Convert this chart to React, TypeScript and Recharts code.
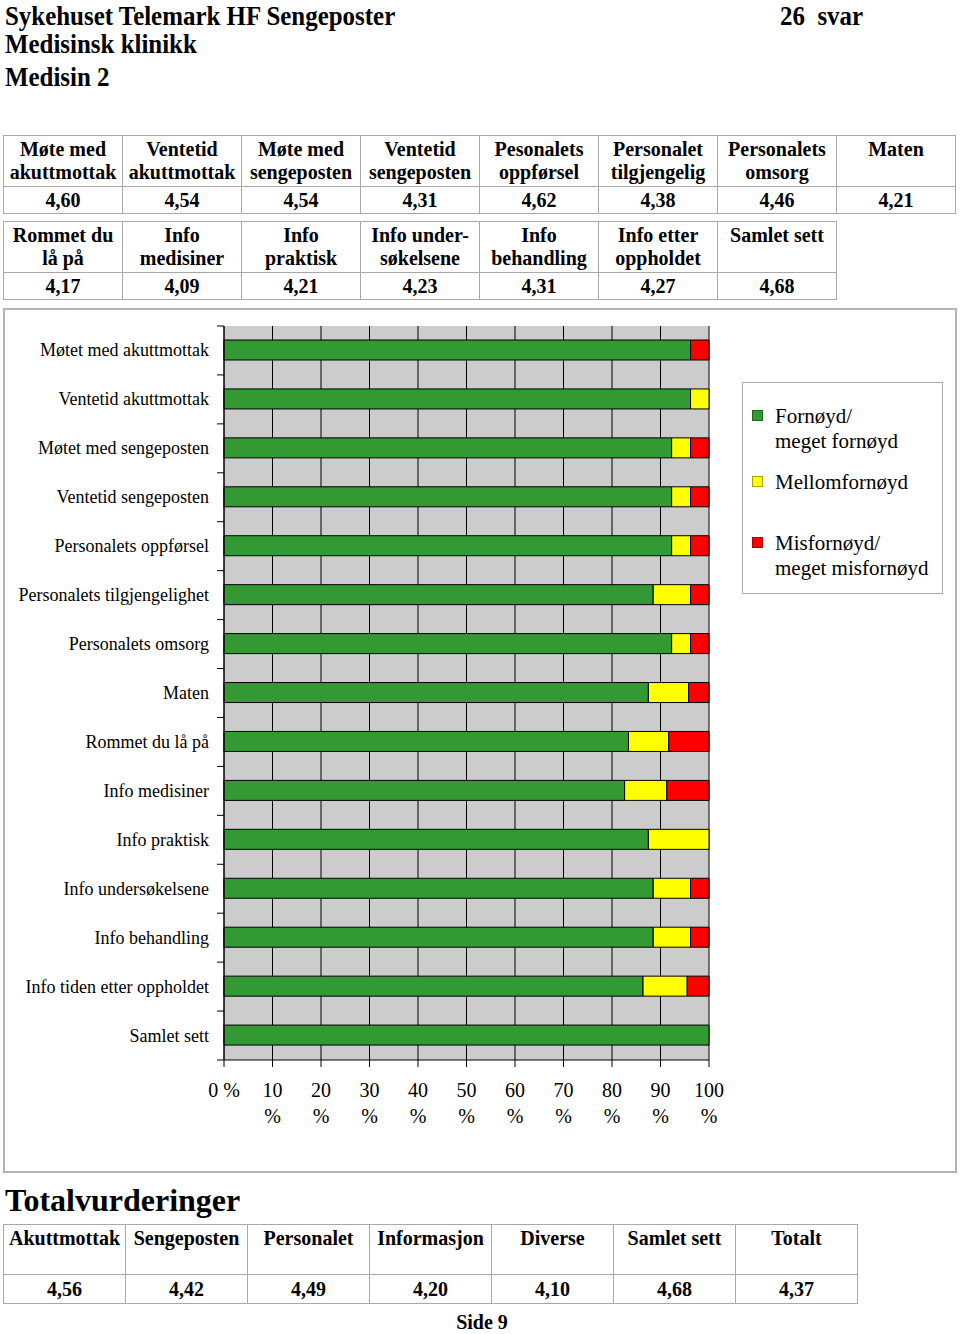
import { BarChart, Bar, XAxis, YAxis, CartesianGrid, Legend } from "recharts";

const SERIF = "'Liberation Serif', 'Times New Roman', serif";

// header tables
const table1Heads = [
  "Møte med\nakuttmottak",
  "Ventetid\nakuttmottak",
  "Møte med\nsengeposten",
  "Ventetid\nsengeposten",
  "Pesonalets\noppførsel",
  "Personalet\ntilgjengelig",
  "Personalets\nomsorg",
  "Maten",
];
const table1Values = ["4,60", "4,54", "4,54", "4,31", "4,62", "4,38", "4,46", "4,21"];

const table2Heads = [
  "Rommet du\nlå på",
  "Info\nmedisiner",
  "Info\npraktisk",
  "Info under-\nsøkelsene",
  "Info\nbehandling",
  "Info etter\noppholdet",
  "Samlet sett",
];
const table2Values = ["4,17", "4,09", "4,21", "4,23", "4,31", "4,27", "4,68"];

const totalHeads = ["Akuttmottak", "Sengeposten", "Personalet", "Informasjon", "Diverse", "Samlet sett", "Totalt"];
const totalValues = ["4,56", "4,42", "4,49", "4,20", "4,10", "4,68", "4,37"];

const titleLines = ["Sykehuset Telemark HF Sengeposter", "Medisinsk klinikk", "Medisin 2"];

// chart (percent of answers)
const categories = [
  "Møtet med akuttmottak",
  "Ventetid akuttmottak",
  "Møtet med sengeposten",
  "Ventetid sengeposten",
  "Personalets oppførsel",
  "Personalets tilgjengelighet",
  "Personalets omsorg",
  "Maten",
  "Rommet du lå på",
  "Info medisiner",
  "Info praktisk",
  "Info undersøkelsene",
  "Info behandling",
  "Info tiden etter oppholdet",
  "Samlet sett",
];
const satisfied = [96.2, 96.2, 92.3, 92.3, 92.3, 88.5, 92.3, 87.5, 83.4, 82.6, 87.5, 88.5, 88.5, 86.4, 100];
const neutral = [0, 3.8, 3.9, 3.9, 3.9, 7.7, 3.9, 8.3, 8.3, 8.7, 12.5, 7.7, 7.7, 9.1, 0];
const dissatisfied = [3.8, 0, 3.8, 3.8, 3.8, 3.8, 3.8, 4.2, 8.3, 8.7, 0, 3.8, 3.8, 4.5, 0];
const xTicks = [0, 10, 20, 30, 40, 50, 60, 70, 80, 90, 100];

const chartData = categories.map((name, i) => ({
  name,
  satisfied: satisfied[i],
  neutral: neutral[i],
  dissatisfied: dissatisfied[i],
}));

const legendGaps = [0, 16, 36];

function InfoTable({ heads, values, left, top, colWidth, headH, valH }: any) {
  const cell = { border: "1px solid #a8a8a8", padding: 0, textAlign: "center" as const };
  return (
    <table
      style={{
        position: "absolute",
        left,
        top,
        borderCollapse: "collapse",
        tableLayout: "fixed",
        width: colWidth * heads.length + 1,
        fontFamily: SERIF,
        fontWeight: "bold",
        fontSize: 20,
        lineHeight: "23px",
      }}
    >
      <colgroup>
        {heads.map((h: string) => (
          <col key={h} style={{ width: colWidth }} />
        ))}
      </colgroup>
      <tbody>
        <tr style={{ height: headH }}>
          {heads.map((h: string) => (
            <td key={h} style={{ ...cell, verticalAlign: "top", paddingTop: 2, whiteSpace: "pre-line" }}>
              {h}
            </td>
          ))}
        </tr>
        <tr style={{ height: valH }}>
          {values.map((v: string, i: number) => (
            <td key={i} style={{ ...cell, verticalAlign: "middle" }}>
              {v}
            </td>
          ))}
        </tr>
      </tbody>
    </table>
  );
}

function YTick(props: any) {
  const { x, y, payload, index } = props;
  const half = payload.offset ?? 0;
  const axisX = x + 15;
  return (
    <g>
      <line x1={axisX - 7} x2={axisX} y1={y - half} y2={y - half} stroke="#000" />
      {index === categories.length - 1 && (
        <line x1={axisX - 7} x2={axisX} y1={y + half} y2={y + half} stroke="#000" />
      )}
      <text x={x} y={y + 6} textAnchor="end" fontSize={18} fontFamily={SERIF} fill="#000">
        {payload.value}
      </text>
    </g>
  );
}

function XTick(props: any) {
  const { x, y, payload } = props;
  const v = payload.value;
  return (
    <text x={x} y={y} textAnchor="middle" fontSize={20} fontFamily={SERIF} fill="#000">
      {v === 0 ? (
        <tspan x={x} dy={24}>0 %</tspan>
      ) : (
        <>
          <tspan x={x} dy={24}>{v}</tspan>
          <tspan x={x} dy={26}>%</tspan>
        </>
      )}
    </text>
  );
}

function LegendBox(props: any) {
  const payload = props.payload || [];
  return (
    <div
      style={{
        width: 201,
        height: 212,
        boxSizing: "border-box",
        border: "1px solid #aaa",
        background: "#fff",
        paddingTop: 21,
        paddingLeft: 9,
        fontFamily: SERIF,
        fontSize: 21,
        lineHeight: "25px",
        color: "#000",
      }}
    >
      {payload.map((p: any, i: number) => (
        <div key={p.value} style={{ display: "flex", alignItems: "flex-start", marginTop: legendGaps[i] }}>
          <div
            style={{
              width: 11,
              height: 11,
              marginTop: 6,
              marginRight: 12,
              background: p.color,
              boxSizing: "border-box",
              border: "1px solid rgba(0,0,0,0.35)",
              flexShrink: 0,
            }}
          />
          <div style={{ whiteSpace: "pre-line" }}>{p.value}</div>
        </div>
      ))}
    </div>
  );
}

export default function App() {
  const titleStyle = {
    position: "absolute" as const,
    top: 0,
    fontFamily: SERIF,
    fontWeight: "bold",
    fontSize: 28,
    lineHeight: "31px",
    transform: "scaleX(0.89)",
    transformOrigin: "left top",
    whiteSpace: "pre" as const,
  };
  return (
    <div style={{ position: "relative", width: 960, height: 1334, background: "#fff", overflow: "hidden" }}>
      <style>{"body{margin:0}"}</style>

      <div style={{ ...titleStyle, left: 5 }}>
        {titleLines.map((t, i) => (
          <div key={t} style={{ height: i === 0 ? 28 : 33 }}>
            {t}
          </div>
        ))}
      </div>
      <div style={{ ...titleStyle, left: 780 }}>26  svar</div>

      <InfoTable heads={table1Heads} values={table1Values} left={3} top={135} colWidth={119} headH={51} valH={27} />
      <InfoTable heads={table2Heads} values={table2Values} left={3} top={221} colWidth={119} headH={51} valH={27} />

      <div
        style={{
          position: "absolute",
          left: 3,
          top: 308,
          width: 954,
          height: 865,
          boxSizing: "border-box",
          border: "2px solid #b4b4b4",
        }}
      />

      <div style={{ position: "absolute", left: 0, top: 300 }}>
        <BarChart
          width={960}
          height={830}
          data={chartData}
          layout="vertical"
          barSize={20}
          margin={{ top: 26, right: 251, bottom: 0, left: 14 }}
        >
          <CartesianGrid horizontal={false} stroke="#000" fill="#cccccc" fillOpacity={1} />
          <XAxis
            type="number"
            domain={[0, 100]}
            ticks={xTicks}
            interval={0}
            height={70}
            tickSize={7}
            tickMargin={6}
            axisLine={{ stroke: "#000" }}
            tickLine={{ stroke: "#000" }}
            tick={<XTick />}
          />
          <YAxis
            type="category"
            dataKey="name"
            width={210}
            interval={0}
            tickSize={7}
            tickMargin={8}
            axisLine={{ stroke: "#000" }}
            tickLine={false}
            tick={<YTick />}
          />
          <Legend
            layout="vertical"
            align="center"
            verticalAlign="middle"
            content={<LegendBox />}
            wrapperStyle={{ left: 742, top: 82, width: 201, height: 212 }}
          />
          <Bar dataKey="satisfied" name={"Fornøyd/\nmeget fornøyd"} stackId="a" fill="#339933" stroke="#000" isAnimationActive={false} />
          <Bar dataKey="neutral" name="Mellomfornøyd" stackId="a" fill="#ffff00" stroke="#000" isAnimationActive={false} />
          <Bar dataKey="dissatisfied" name={"Misfornøyd/\nmeget misfornøyd"} stackId="a" fill="#ff0000" stroke="#000" isAnimationActive={false} />
        </BarChart>
      </div>

      <div
        style={{
          position: "absolute",
          left: 5,
          top: 1184,
          fontFamily: SERIF,
          fontWeight: "bold",
          fontSize: 32,
          lineHeight: "33px",
        }}
      >
        Totalvurderinger
      </div>

      <InfoTable heads={totalHeads} values={totalValues} left={3} top={1224} colWidth={122} headH={50} valH={29} />

      <div
        style={{
          position: "absolute",
          left: 432,
          width: 100,
          top: 1311,
          textAlign: "center",
          fontFamily: SERIF,
          fontWeight: "bold",
          fontSize: 20,
          lineHeight: "22px",
        }}
      >
        Side 9
      </div>
    </div>
  );
}
